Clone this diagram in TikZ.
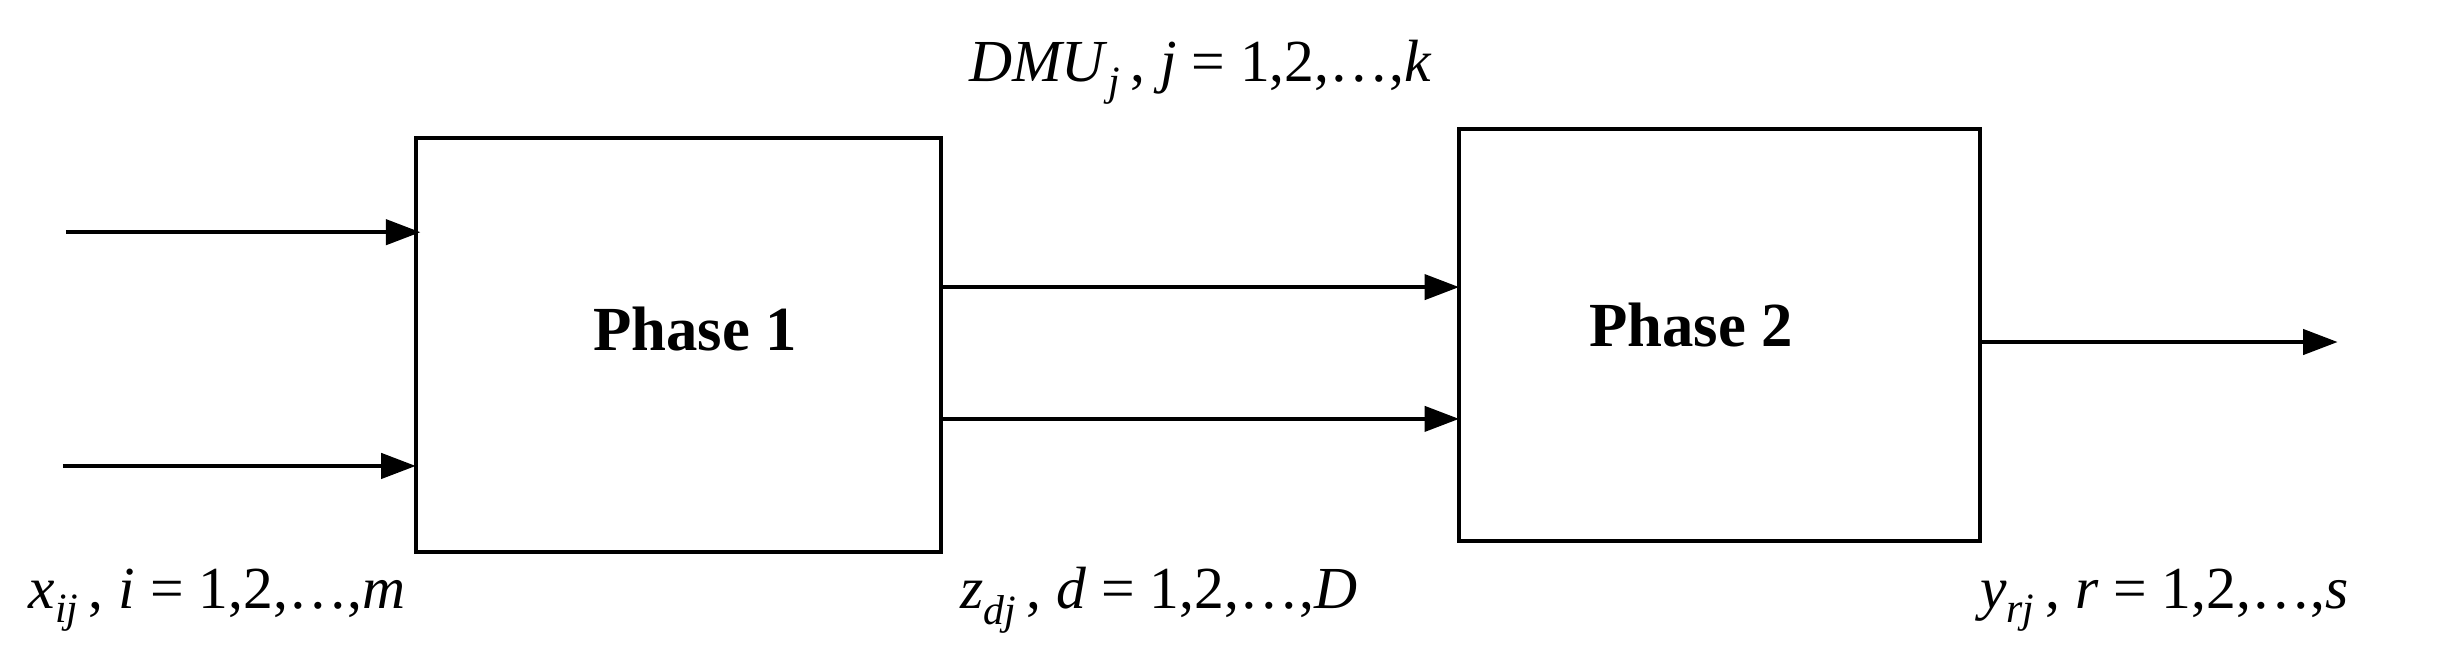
\documentclass[tikz,border=0pt]{standalone}
\usepackage{fontspec}
\setmainfont{Liberation Serif}
\usetikzlibrary{arrows.meta}
\newcommand{\vi}[1]{\textit{#1}}
\newcommand{\vsb}[1]{\textsubscript{\textit{#1}}}
\begin{document}
\begin{tikzpicture}[x=1pt,y=-1pt,
 box/.style={draw,line width=2.5pt},
 arr/.style={line width=2.5pt,-{Triangle[length=22pt,width=16pt]}},
 lab/.style={font=\fontsize{38}{40}\selectfont,inner sep=0pt},
 ph/.style={font=\fontsize{40}{42}\selectfont\bfseries}]
\useasboundingbox (0,0) rectangle (1568,420);
\draw[box] (265,88) rectangle (600,352);
\draw[box] (930,82) rectangle (1262,345);
\node[ph] (p1) at (443,210) {Phase 1};
\node[ph] (p2) at (1078,207) {Phase 2};
\coordinate (a1) at (42,148); \coordinate (a1e) at (268,148);
\coordinate (a2) at (40,297); \coordinate (a2e) at (265,297);
\coordinate (m1) at (600,183); \coordinate (m1e) at (930,183);
\coordinate (m2) at (600,267); \coordinate (m2e) at (930,267);
\coordinate (o1) at (1262,218); \coordinate (o1e) at (1490,218);
\draw[arr] (a1)--(a1e);
\draw[arr] (a2)--(a2e);
\draw[arr] (m1)--(m1e);
\draw[arr] (m2)--(m2e);
\draw[arr] (o1)--(o1e);
\node[lab,anchor=base] (t) at (765,52) {\vi{DMU}\vsb{j}\,, \vi{j} = 1,2,\ldots,\vi{k}};
\node[lab,anchor=base west] (bx) at (18,388) {\vi{x}\vsb{ij}\,, \vi{i} = 1,2,\ldots,\vi{m}};
\node[lab,anchor=base west] (bz) at (612,388) {\vi{z}\vsb{dj}\,, \vi{d} = 1,2,\ldots,\vi{D}};
\node[lab,anchor=base west] (by) at (1262,388) {\vi{y}\vsb{rj}\,, \vi{r} = 1,2,\ldots,\vi{s}};
\end{tikzpicture}
\end{document}
